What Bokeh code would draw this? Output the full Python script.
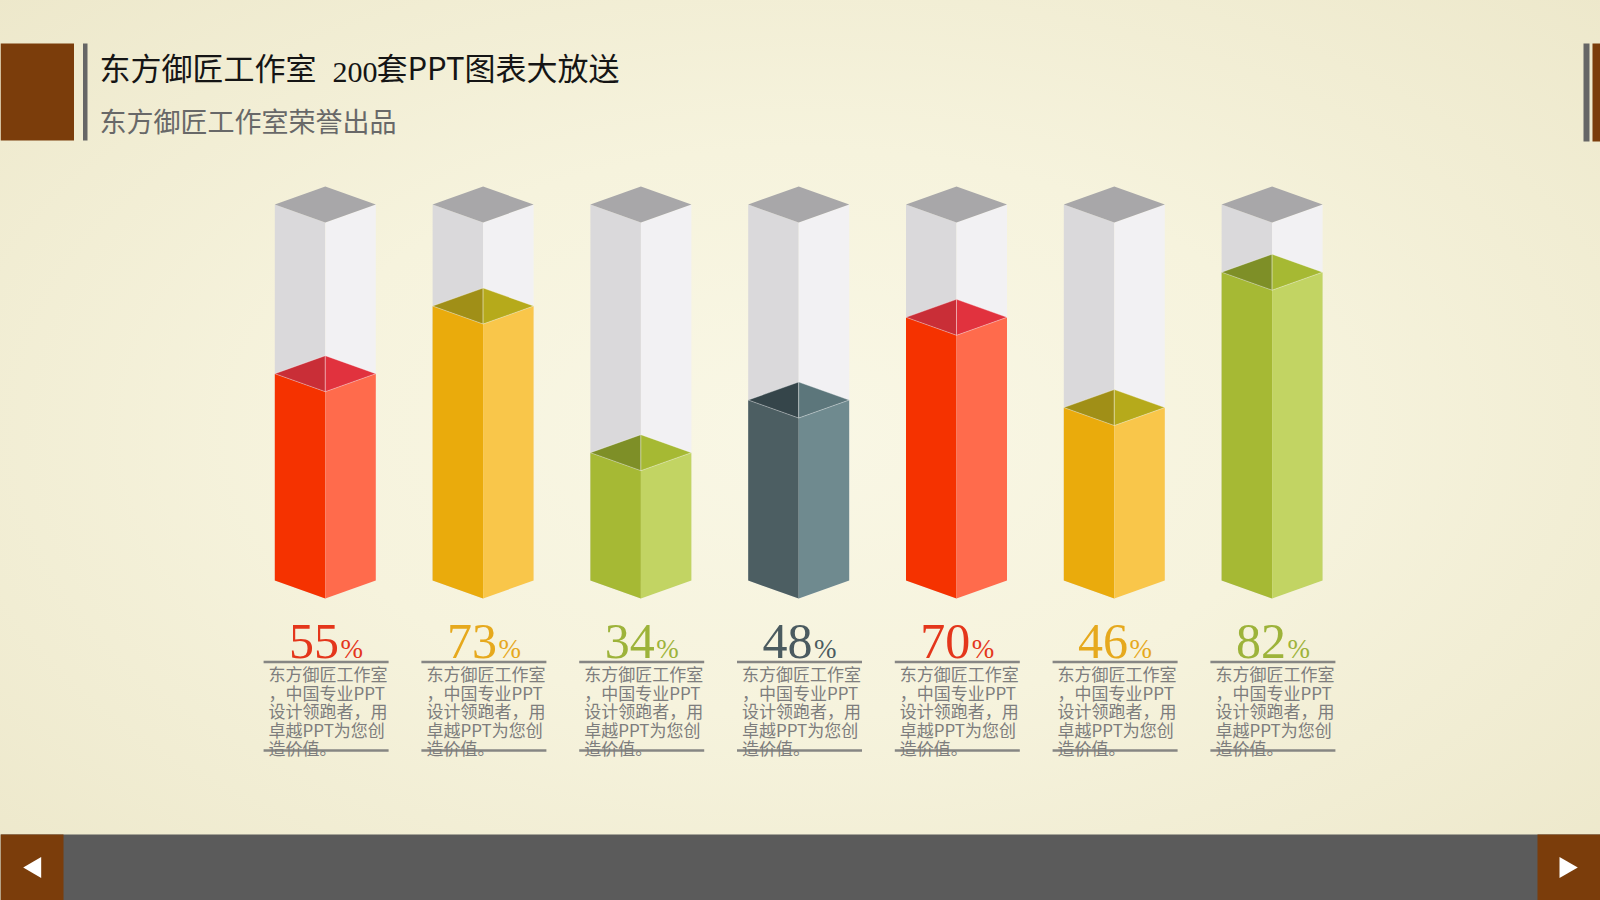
from bokeh.plotting import figure
from bokeh.models import Range1d, ColumnDataSource
from bokeh.embed import file_html
from bokeh.resources import INLINE
from bokeh.core.properties import value

# ---------------- data ----------------
values = [55, 73, 34, 48, 70, 46, 82]
color_keys = ["red", "yellow", "green", "slate", "red", "yellow", "green"]
desc_lines = ["东方御匠工作室", "，中国专业PPT", "设计领跑者，用", "卓越PPT为您创", "造价值。"]
title_main = "东方御匠工作室"
title_num = "200"
title_rest = "套PPT图表大放送"
subtitle = "东方御匠工作室荣誉出品"

# ---------------- styles ----------------
PAL = {
    "red":    dict(left="#f53200", right="#ff6b4c", tl="#c92e37", tr="#e1323e", text="#e4361b"),
    "yellow": dict(left="#eaab0c", right="#f9c64a", tl="#a08f17", tr="#b6aa1b", text="#e6a91d"),
    "green":  dict(left="#a6b934", right="#c2d463", tl="#7e8f27", tr="#a6b933", text="#9db33a"),
    "slate":  dict(left="#4c5e62", right="#6f8a8f", tl="#35454a", tr="#5c767b", text="#4b5b60"),
}
GLASS_L, GLASS_R, GLASS_T = "#dad9db", "#f2f1f3", "#a8a7a9"

W, H = 1600, 900
PX_PER_X = 157.8          # pixels per category step
X_ORIGIN = 324.8          # pixel x of category 0
PX_PER_PCT = 3.76         # pixels per percent
Y_ZERO_PX = 580           # pixel (from top) of 0 %
HALF = 50.5 / PX_PER_X    # half width of a column (x units)
ISO = 18 / PX_PER_PCT     # isometric offset (y units)
LBL = 0.8 / PX_PER_X      # label block shift

x_start = -X_ORIGIN / PX_PER_X
y_start = -(H - Y_ZERO_PX) / PX_PER_PCT

p = figure(width=W, height=H,
           x_range=Range1d(x_start, x_start + W / PX_PER_X),
           y_range=Range1d(y_start, y_start + H / PX_PER_PCT),
           output_backend="svg", toolbar_location=None,
           x_axis_location=None, y_axis_location=None, min_border=0)
p.grid.visible = False
p.outline_line_color = None
p.background_fill_alpha = 0
p.border_fill_alpha = 0
p.styles = {"background": "radial-gradient(ellipse 70% 70% at 50% 48%, #f9f7e5 0%, #f6f3dd 45%, #ede8cb 100%)"}
p.extra_x_ranges = {"px": Range1d(0, W)}
p.extra_y_ranges = {"px": Range1d(H, 0)}

idx = list(range(len(values)))

# ---------------- columns ----------------
def face_lists(top_vals):
    L, R, TL, TR, T = [], [], [], [], []
    for i, v in zip(idx, top_vals):
        L.append(([i - HALF, i, i, i - HALF], [v, v - ISO, -ISO, 0]))
        R.append(([i, i + HALF, i + HALF, i], [v - ISO, v, 0, -ISO]))
        TL.append(([i - HALF, i, i], [v, v + ISO, v - ISO]))
        TR.append(([i, i + HALF, i], [v + ISO, v, v - ISO]))
        T.append(([i - HALF, i, i + HALF, i], [v, v + ISO, v, v - ISO]))
    return L, R, TL, TR, T

def draw(faces, colors, **kw):
    p.patches(xs=[f[0] for f in faces], ys=[f[1] for f in faces],
              fill_color=colors, **kw)

full = [100] * len(values)
gL, gR, _, _, gT = face_lists(full)
draw(gL, [GLASS_L] * len(values), line_color=None)
draw(gR, [GLASS_R] * len(values), line_color=None)
draw(gT, [GLASS_T] * len(values), line_color=None)

fL, fR, fTL, fTR, _ = face_lists(values)
draw(fL, [PAL[k]["left"] for k in color_keys], line_color=None)
draw(fR, [PAL[k]["right"] for k in color_keys], line_color=None)
draw(fTL, [PAL[k]["tl"] for k in color_keys], line_color="#ffffff", line_alpha=0.35, line_width=1)
draw(fTR, [PAL[k]["tr"] for k in color_keys], line_color="#ffffff", line_alpha=0.35, line_width=1)

# ---------------- labels ----------------
lbl_x = [i + LBL for i in idx]
src = ColumnDataSource(dict(x=lbl_x, num=[str(v) for v in values],
                            pct=["%"] * len(values),
                            col=[PAL[k]["text"] for k in color_keys]))
p.text(x="x", y=640.5, text="num", source=src, y_range_name="px",
       text_font=value("Liberation Serif"), text_font_size="50px",
       text_color="col", text_align="right", text_baseline="alphabetic", x_offset=13)
p.text(x="x", y=648, text="pct", source=src, y_range_name="px",
       text_font=value("Liberation Serif"), text_font_size="27px",
       text_color="col", text_align="left", text_baseline="alphabetic", x_offset=14.5)

seg_l = [x - 62.5 / PX_PER_X for x in lbl_x]
seg_r = [x + 62.5 / PX_PER_X for x in lbl_x]
for yy in (661.5, 750):
    p.segment(x0=seg_l, x1=seg_r, y0=[yy] * len(values), y1=[yy] * len(values),
              y_range_name="px", line_color="#7a7a7a", line_width=2.5, line_alpha=0.9)

txt_x = [x - 57.5 / PX_PER_X for x in lbl_x]
for k, line in enumerate(desc_lines):
    p.text(x=txt_x, y=[673 + 18.5 * k] * len(values), text=[line] * len(values),
           y_range_name="px", text_font=value("Noto Sans CJK SC"), text_font_size="17px",
           text_color="#7d7d7d", text_align="left", text_baseline="middle")

# ---------------- header ----------------
PX = dict(x_range_name="px", y_range_name="px")
p.quad(left=0, right=73.5, top=43, bottom=140, fill_color="#7b3d0b", line_color=None, **PX)
p.quad(left=82.5, right=87, top=43, bottom=140, fill_color="#666666", line_color=None, **PX)
p.quad(left=1583, right=1589, top=43, bottom=141, fill_color="#666666", line_color=None, **PX)
p.quad(left=1592, right=1600, top=43, bottom=141, fill_color="#7b3d0b", line_color=None, **PX)

p.text(x=[99], y=[65.5], text=[title_main], text_font=value("Noto Sans CJK SC"),
       text_font_size="31px", text_color="#151515", text_baseline="middle", **PX)
p.text(x=[332], y=[71.5], text=[title_num], text_font=value("Liberation Serif"),
       text_font_size="30px", text_color="#151515", text_baseline="alphabetic", **PX)
p.text(x=[376], y=[65.5], text=[title_rest], text_font=value("Noto Sans CJK SC"),
       text_font_size="31px", text_color="#151515", text_baseline="middle", **PX)
p.text(x=[99], y=[120], text=[subtitle], text_font=value("Noto Sans CJK SC"),
       text_font_size="27px", text_color="#686868", text_baseline="middle", **PX)

# ---------------- footer ----------------
p.quad(left=0, right=W, top=834, bottom=H, fill_color="#5b5b5b", line_color=None, **PX)
p.quad(left=0, right=63, top=834, bottom=H, fill_color="#7b3d0b", line_color=None, **PX)
p.quad(left=1537, right=W, top=834, bottom=H, fill_color="#7b3d0b", line_color=None, **PX)
p.patches(xs=[[22.7, 40.7, 40.7], [1577.3, 1559, 1559]],
          ys=[[867, 856.5, 877.5], [867, 856.5, 877.5]],
          fill_color="#ffffff", line_color=None, **PX)

open("out.html", "w").write(file_html(p, INLINE))
